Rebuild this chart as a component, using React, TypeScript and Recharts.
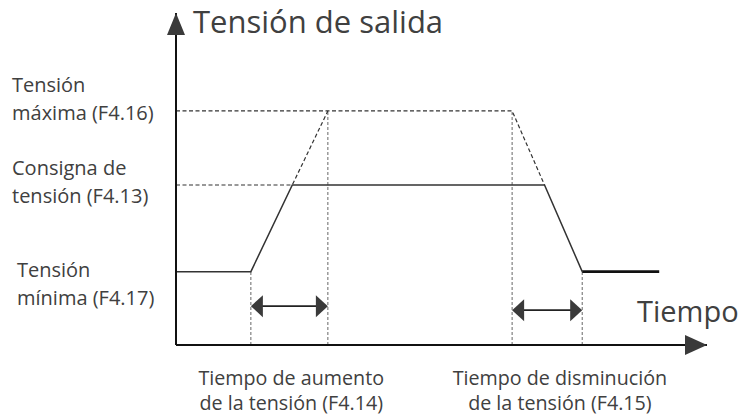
import {
  ComposedChart,
  Line,
  XAxis,
  YAxis,
  ReferenceLine,
  ReferenceDot,
} from "recharts";

// voltage levels (min, setpoint, max) and their labels
const levelValues = [2.21, 4.82, 7.05];
const levelLine1 = ["Tensión", "Consigna de", "Tensión"];
const levelLine2 = ["mínima (F4.17)", "tensión (F4.13)", "máxima (F4.16)"];

// solid output voltage trace
const outTime = [0, 1.41, 2.19, 6.94, 7.65];
const outVolt = [2.21, 2.21, 4.82, 4.82, 2.21];
const tailTime = [7.65, 9.1];
const tailVolt = [2.21, 2.21];

// dashed construction lines
const maxTime = [0, 2.86, 6.33, 6.94];
const maxVolt = [7.05, 7.05, 7.05, 4.82];
const setTime = [0, 2.19, 2.86];
const setVolt = [4.82, 4.82, 7.05];

// vertical guides
const guideTime = [1.41, 2.86, 6.33, 7.65];
const guideTop = [2.21, 7.05, 7.05, 2.21];

// ramp time spans
const spanStart = [1.41, 6.33];
const spanEnd = [2.86, 7.65];
const spanLevel = [1.17, 1.05];

// bottom labels
const timeLabelPos = [2.17, 7.23];
const timeLine1 = ["Tiempo de aumento", "Tiempo de disminución"];
const timeLine2 = ["de la tensión (F4.14)", "de la tensión (F4.15)"];

const FONT = "'Open Sans', sans-serif";
const TEXT = "#404040";

const toPoints = (ts: number[], vs: number[]) => ts.map((t, i) => ({ t, v: vs[i] }));

// eslint-disable-next-line @typescript-eslint/no-explicit-any
function LevelTick({ x, y, index }: any) {
  const dy = [5.5, -10, -19][index];
  const left = [17, 12, 12][index];
  return (
    <text fontFamily={FONT} fontSize={20} fill={TEXT} textAnchor="start">
      <tspan x={x - 176 + left} y={y + dy}>{levelLine1[index]}</tspan>
      <tspan x={x - 176 + left} y={y + dy + 28}>{levelLine2[index]}</tspan>
    </text>
  );
}

// eslint-disable-next-line @typescript-eslint/no-explicit-any
function TimeTick({ x, y, index }: any) {
  return (
    <text fontFamily={FONT} fontSize={19.7} fill={TEXT} textAnchor="middle">
      <tspan x={x} y={y + 40}>{timeLine1[index]}</tspan>
      <tspan x={x} y={y + 65}>{timeLine2[index]}</tspan>
    </text>
  );
}

// eslint-disable-next-line @typescript-eslint/no-explicit-any
function SpanArrow({ x1, y1, x2 }: any) {
  const y = y1;
  return (
    <g>
      <line x1={x1 + 8} y1={y} x2={x2 - 8} y2={y} stroke="#222" strokeWidth={1.6} />
      <polygon points={`${x1},${y} ${x1 + 12},${y - 11} ${x1 + 12},${y + 11}`} fill="#3a3a3a" />
      <polygon points={`${x2},${y} ${x2 - 12},${y - 11} ${x2 - 12},${y + 11}`} fill="#3a3a3a" />
    </g>
  );
}

// eslint-disable-next-line @typescript-eslint/no-explicit-any
const UpArrow = ({ cx, cy }: any) => (
  <polygon points={`${cx},${cy} ${cx - 9},${cy + 22} ${cx + 9},${cy + 22}`} fill="#3a3a3a" />
);

// eslint-disable-next-line @typescript-eslint/no-explicit-any
const RightArrow = ({ cx, cy }: any) => (
  <polygon points={`${cx},${cy} ${cx - 22},${cy - 10} ${cx - 22},${cy + 10}`} fill="#3a3a3a" />
);

export default function App() {
  return (
    <div style={{ position: "absolute", left: 0, top: 0, background: "#fff" }}>
      <ComposedChart width={749} height={418} margin={{ top: 13, right: 42, left: 0, bottom: 0 }}>
        <XAxis
          type="number"
          dataKey="t"
          domain={[0, 10]}
          ticks={timeLabelPos}
          interval={0}
          tick={<TimeTick />}
          tickLine={false}
          tickSize={0}
          tickMargin={0}
          height={73}
          axisLine={{ stroke: "#111", strokeWidth: 2 }}
          label={{
            // eslint-disable-next-line @typescript-eslint/no-explicit-any
            content: ({ viewBox }: any) => (
              <text x={viewBox.x + viewBox.width - 70} y={viewBox.y - 23} fontFamily={FONT} fontSize={29} fill={TEXT}>
                Tiempo
              </text>
            ),
          }}
        />
        <YAxis
          type="number"
          domain={[0, 10]}
          ticks={levelValues}
          interval={0}
          tick={<LevelTick />}
          tickLine={false}
          tickSize={0}
          tickMargin={0}
          width={176}
          axisLine={{ stroke: "#111", strokeWidth: 2 }}
          label={{
            // eslint-disable-next-line @typescript-eslint/no-explicit-any
            content: ({ viewBox }: any) => (
              <text x={viewBox.x + viewBox.width + 17} y={viewBox.y + 20} fontFamily={FONT} fontSize={31} fill={TEXT}>
                Tensión de salida
              </text>
            ),
          }}
        />

        {guideTime.map((t, i) => (
          <ReferenceLine
            key={`g${i}`}
            segment={[{ x: t, y: 0 }, { x: t, y: guideTop[i] }]}
            stroke="#666"
            strokeWidth={1}
            strokeDasharray="3 2"
          />
        ))}

        <Line data={toPoints(maxTime, maxVolt)} dataKey="v" type="linear" stroke="#333" strokeWidth={1.2} strokeDasharray="4 2.5" dot={false} isAnimationActive={false} />
        <Line data={toPoints(setTime, setVolt)} dataKey="v" type="linear" stroke="#333" strokeWidth={1.2} strokeDasharray="4 2.5" dot={false} isAnimationActive={false} />
        <Line data={toPoints(outTime, outVolt)} dataKey="v" type="linear" stroke="#333" strokeWidth={1.5} dot={false} isAnimationActive={false} />
        <Line data={toPoints(tailTime, tailVolt)} dataKey="v" type="linear" stroke="#111" strokeWidth={2.6} dot={false} isAnimationActive={false} />

        {spanStart.map((s, i) => (
          <ReferenceLine
            key={`s${i}`}
            segment={[{ x: s, y: spanLevel[i] }, { x: spanEnd[i], y: spanLevel[i] }]}
            shape={<SpanArrow />}
          />
        ))}

        <ReferenceDot x={0} y={10} r={0} shape={<UpArrow />} />
        <ReferenceDot x={10} y={0} r={0} shape={<RightArrow />} />
      </ComposedChart>
    </div>
  );
}
